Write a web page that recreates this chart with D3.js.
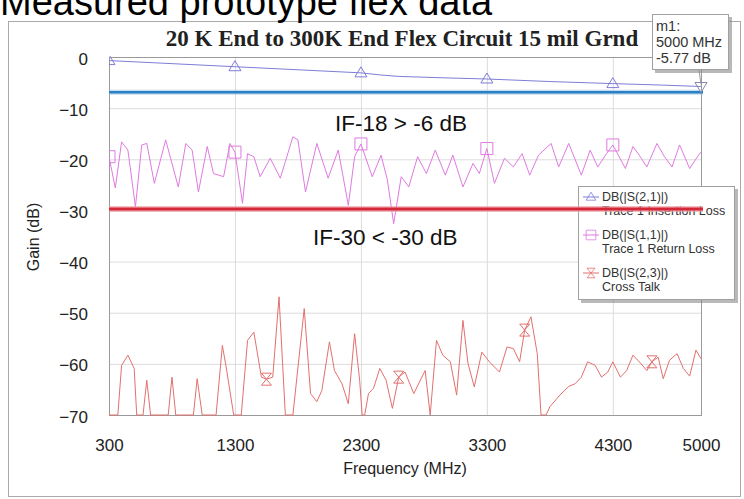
<!DOCTYPE html>
<html><head><meta charset="utf-8">
<script src="https://cdn.jsdelivr.net/npm/d3@7"></script>
<style>body{margin:0;background:#fff}svg{display:block}text{font-family:"Liberation Sans",Arial,sans-serif}</style>
</head><body><svg id="c" width="744" height="499"></svg>
<script>
const freqTicks = [300, 1300, 2300, 3300, 4300, 5000];
const gainTicks = [0, -10, -20, -30, -40, -50, -60, -70];

const insertionLossFreq = [300, 800, 1300, 1800, 2300, 2450, 2600, 3000, 3300, 3800, 4300, 4700, 5000];
const insertionLossDb = [-0.7, -1.3, -1.9, -2.5, -3.1, -3.5, -3.8, -4.1, -4.3, -4.8, -5.2, -5.5, -5.77];

const returnLossFreq = [300,350,400,450,510,560,600,660,750,850,910,960,1010,1080,1130,1210,1260,1300,1360,1400,1450,1500,1580,1660,1760,1800,1860,1950,2040,2120,2200,2250,2300,2390,2460,2510,2560,2620,2680,2750,2820,2890,2970,3030,3110,3190,3240,3300,3360,3440,3510,3580,3640,3710,3810,3870,3950,4050,4120,4180,4250,4300,4400,4460,4510,4570,4650,4710,4770,4830,4910,4980,5000];
const returnLossDb = [-19.5,-25.6,-16.6,-18.2,-29.3,-17.2,-16.9,-24.7,-16.2,-25.4,-16.9,-18.2,-26.4,-17.5,-22.8,-23.4,-16.9,-18.6,-28.6,-18.9,-19.5,-23.4,-19.8,-23.7,-15.6,-16.2,-26.4,-16.9,-23.7,-18.2,-29.0,-19.5,-17.0,-23.4,-19.2,-24.0,-32.6,-23.4,-25.4,-19.5,-22.8,-18.2,-23.1,-19.2,-25.4,-20.8,-22.8,-17.9,-24.7,-19.8,-21.5,-18.9,-23.1,-19.2,-16.9,-21.5,-16.9,-23.1,-18.2,-21.5,-18.9,-17.2,-21.8,-17.5,-19.2,-21.5,-16.9,-19.5,-21.5,-17.2,-21.8,-19.2,-18.6];

const crossTalkFreq = [300,370,400,450,500,520,570,600,630,770,800,830,970,1000,1040,1150,1200,1230,1290,1350,1400,1450,1510,1550,1600,1650,1700,1760,1850,1900,1950,1990,2050,2090,2150,2200,2250,2290,2310,2330,2360,2400,2450,2500,2550,2600,2650,2720,2810,2850,2900,2950,3010,3060,3110,3150,3200,3260,3320,3400,3460,3510,3560,3600,3650,3700,3730,3770,3800,3880,3950,4000,4050,4100,4160,4210,4260,4300,4360,4410,4460,4510,4570,4610,4660,4700,4750,4810,4860,4910,4960,5000];
const crossTalkDb = [-70,-70,-60.3,-58.3,-60.9,-70,-70,-63.2,-70,-70,-62.6,-70,-70,-62.9,-70,-70,-56.4,-60.6,-70,-70,-55.4,-53.8,-62.6,-63.0,-62.6,-46.9,-70,-70,-49.2,-65.8,-67.4,-65.2,-55.7,-61.3,-63.9,-67.8,-54.1,-63.2,-70,-70,-65.8,-64.8,-60.9,-63.2,-68.7,-62.6,-61.6,-65.8,-61.3,-70,-55.4,-58.3,-59.6,-66.1,-51.5,-59.9,-64.5,-57.7,-59.6,-61.6,-56.7,-57.0,-59.6,-53.4,-50.8,-58.0,-70,-70,-68.4,-66.1,-64.4,-63.9,-62.6,-59.6,-60.3,-62.6,-61.6,-59.6,-62.6,-61.3,-58.3,-59.6,-61.3,-59.6,-58.7,-62.9,-59.3,-58.0,-60.9,-62.4,-57.3,-59.0];

const ilMarkerFreq = [300, 1300, 2300, 3300, 4300];
const rlMarkerFreq = [300, 1300, 2300, 3300, 4300];
const ctMarkerFreq = [1550, 2600, 3600, 4610];

const limitInsertion = -6.9;
const limitCrossTalk = -29.7;
const markerM1 = {freq: 5000, db: -5.77};

const legendLabels = [
  ["DB(|S(2,1)|)", "Trace 1 Insertion Loss"],
  ["DB(|S(1,1)|)", "Trace 1 Return Loss"],
  ["DB(|S(2,3)|)", "Cross Talk"]
];

const colIL = "#7d7dd8", colRL = "#e07ae0", colCT = "#e2706e";

const svg = d3.select("#c");
const x = d3.scaleLinear().domain([300, 5000]).range([109, 701]);
const y = d3.scaleLinear().domain([0, -70]).range([57, 415]);

// outer frame
svg.append("rect").attr("x", 8.5).attr("y", 21.5).attr("width", 732).attr("height", 475)
  .attr("fill", "none").attr("stroke", "#aaa");

// header (cut at top edge, as in the reference)
svg.append("text").attr("x", 0).attr("y", 15).attr("font-size", 38).attr("fill", "#000")
  .text("Measured prototype flex data");

// title
svg.append("text").attr("x", 402).attr("y", 46).attr("text-anchor", "middle")
  .style("font-family", "'Liberation Serif','Times New Roman',serif").style("font-weight", "bold")
  .attr("font-size", 23).attr("fill", "#222")
  .text("20 K End to 300K End Flex Circuit 15 mil Grnd");

// axes with grid
const gx = svg.append("g").attr("transform", `translate(0,${y(-70)})`)
  .call(d3.axisBottom(x).tickValues(freqTicks).tickFormat(d3.format("d"))
    .tickSize(-(y(-70) - y(0))).tickPadding(24));
const gy = svg.append("g").attr("transform", `translate(${x(300)},0)`)
  .call(d3.axisLeft(y).tickValues(gainTicks).tickFormat(d3.format("d"))
    .tickSize(-(x(5000) - x(300))).tickPadding(21));
[gx, gy].forEach(g => {
  g.select(".domain").remove();
  g.selectAll(".tick line").attr("stroke", "#dcdcdc");
  g.selectAll(".tick text").attr("font-size", 17).attr("fill", "#222")
    .style("font-family", "'Liberation Sans',Arial,sans-serif");
});
gy.selectAll(".tick text").attr("dy", "0.42em");

// plot frame
svg.append("rect").attr("x", x(300) + 0.5).attr("y", y(0) + 0.5)
  .attr("width", x(5000) - x(300)).attr("height", y(-70) - y(0))
  .attr("fill", "none").attr("stroke", "#9a9a9a");

// axis titles
svg.append("text").attr("transform", "translate(33,237) rotate(-90)").attr("text-anchor", "middle")
  .attr("dominant-baseline", "central").attr("font-size", 16).attr("fill", "#222").text("Gain (dB)");
svg.append("text").attr("x", 405).attr("y", 474).attr("text-anchor", "middle")
  .attr("font-size", 16).attr("fill", "#222").text("Frequency (MHz)");

// clip
svg.append("defs").append("clipPath").attr("id", "plotclip").append("rect")
  .attr("x", x(300)).attr("y", y(0) - 1).attr("width", x(5000) - x(300) + 1).attr("height", y(-70) - y(0) + 2);
const plot = svg.append("g").attr("clip-path", "url(#plotclip)");

const line = d3.line().x(d => x(d[0])).y(d => y(d[1]));
plot.append("path").datum(d3.zip(crossTalkFreq, crossTalkDb)).attr("d", line)
  .attr("fill", "none").attr("stroke", colCT).attr("stroke-width", 1);
plot.append("path").datum(d3.zip(returnLossFreq, returnLossDb)).attr("d", line)
  .attr("fill", "none").attr("stroke", colRL).attr("stroke-width", 1);
plot.append("path").datum(d3.zip(insertionLossFreq, insertionLossDb)).attr("d", line)
  .attr("fill", "none").attr("stroke", colIL).attr("stroke-width", 1);

// marker shapes
const triPath = "M0,-6L6,4L-6,4Z";
const sqPath = "M-6,-6H6V6H-6Z";
const hgPath = "M-5,-6H5L-5,6H5Z";
function lookup(fs, vs, f) { return vs[fs.indexOf(f)]; }

plot.selectAll(".ilm").data(ilMarkerFreq).join("path")
  .attr("transform", f => `translate(${x(f)},${y(lookup(insertionLossFreq, insertionLossDb, f))})`)
  .attr("d", triPath).attr("fill", "none").attr("stroke", colIL);
plot.selectAll(".rlm").data(rlMarkerFreq).join("path")
  .attr("transform", f => `translate(${x(f)},${y(lookup(returnLossFreq, returnLossDb, f))})`)
  .attr("d", sqPath).attr("fill", "none").attr("stroke", colRL);
plot.selectAll(".ctm").data(ctMarkerFreq).join("path")
  .attr("transform", f => `translate(${x(f)},${y(lookup(crossTalkFreq, crossTalkDb, f))})`)
  .attr("d", hgPath).attr("fill", "none").attr("stroke", colCT);

// legend
const lg = svg.append("g");
lg.append("rect").attr("x", 581).attr("y", 189).attr("width", 157).attr("height", 114).attr("fill", "#8a8a8a").attr("opacity", 0.6);
lg.append("rect").attr("x", 578.5).attr("y", 186.5).attr("width", 156).attr("height", 113)
  .attr("fill", "#fff").attr("stroke", "#a0a0a0");
const legCols = [colIL, colRL, colCT];
const legPaths = [triPath, sqPath, hgPath];
legendLabels.forEach((lab, i) => {
  const yy = 197 + i * 38;
  lg.append("line").attr("x1", 583).attr("x2", 599).attr("y1", yy).attr("y2", yy).attr("stroke", legCols[i]);
  lg.append("path").attr("transform", `translate(591,${yy}) scale(0.8)`).attr("d", legPaths[i])
    .attr("fill", "none").attr("stroke", legCols[i]);
  lg.append("text").attr("x", 602).attr("y", 201 + i * 38).attr("font-size", 12.5).attr("fill", "#333").text(lab[0]);
  lg.append("text").attr("x", 602).attr("y", 215 + i * 38).attr("font-size", 12.5).attr("fill", "#333").text(lab[1]);
});

// limit lines
svg.append("line").attr("x1", x(300)).attr("x2", 703).attr("y1", y(limitInsertion)).attr("y2", y(limitInsertion))
  .attr("stroke", "#9cc4e4").attr("stroke-width", 5).attr("opacity", 0.6);
svg.append("line").attr("x1", x(300)).attr("x2", 703).attr("y1", y(limitInsertion)).attr("y2", y(limitInsertion))
  .attr("stroke", "#2a80c4").attr("stroke-width", 2.5);
svg.append("line").attr("x1", x(300)).attr("x2", 703).attr("y1", y(limitCrossTalk)).attr("y2", y(limitCrossTalk))
  .attr("stroke", "#f0a0a8").attr("stroke-width", 6).attr("opacity", 0.7);
svg.append("line").attr("x1", x(300)).attr("x2", 703).attr("y1", y(limitCrossTalk)).attr("y2", y(limitCrossTalk))
  .attr("stroke", "#d42838").attr("stroke-width", 3);

// m1 marker
const mx = x(markerM1.freq), my = y(markerM1.db);
svg.append("line").attr("x1", 699).attr("y1", 70).attr("x2", mx).attr("y2", my - 2).attr("stroke", "#999");
svg.append("path").attr("transform", `translate(${mx},${my}) rotate(180)`).attr("d", triPath)
  .attr("fill", "none").attr("stroke", "#8a8aa8");
svg.append("rect").attr("x", 655).attr("y", 17).attr("width", 77).attr("height", 56).attr("fill", "#888").attr("opacity", 0.6);
svg.append("rect").attr("x", 652.5).attr("y", 14.5).attr("width", 76).attr("height", 55)
  .attr("fill", "#fff").attr("stroke", "#a0a0a0");
["m1:", `${markerM1.freq} MHz`, `${markerM1.db} dB`].forEach((t, i) => {
  svg.append("text").attr("x", 656).attr("y", 31 + i * 16).attr("font-size", 14.5).attr("fill", "#333").text(t);
});

// annotations
svg.append("text").attr("x", 335).attr("y", 131).attr("font-size", 22.5).attr("fill", "#111").text("IF-18 > -6 dB");
svg.append("text").attr("x", 313).attr("y", 245).attr("font-size", 22.5).attr("fill", "#111").text("IF-30 < -30 dB");
</script></body></html>
